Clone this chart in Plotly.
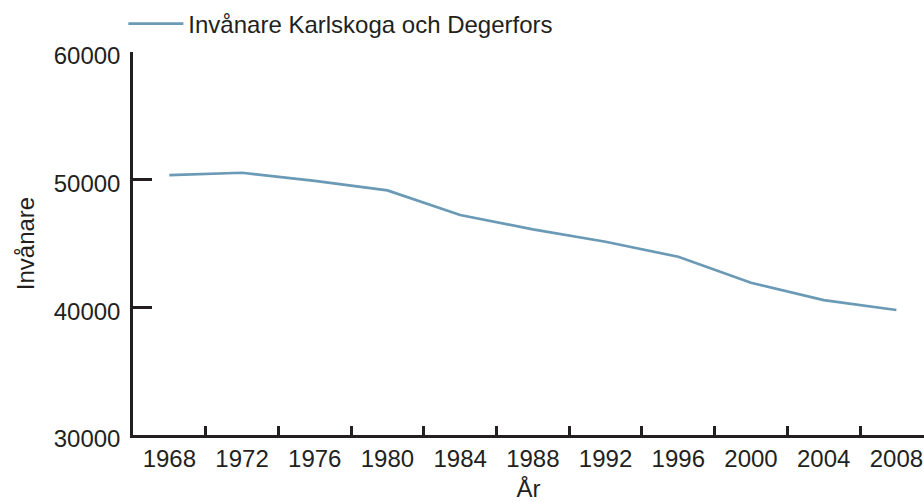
import plotly.graph_objects as go

years = ["1968", "1972", "1976", "1980", "1984", "1988", "1992", "1996", "2000", "2004", "2008"]
invanare = [50360, 50540, 49910, 49160, 47230, 46110, 45140, 43960, 41930, 40570, 39790]
series_name = "Invånare Karlskoga och Degerfors"
y_ticks = [30000, 40000, 50000, 60000]

ink = "#231f20"
fnt = "Liberation Sans, Arial, sans-serif"
fs = 24

fig = go.Figure()
fig.add_trace(go.Scatter(
    x=years, y=invanare, mode="lines", name=series_name,
    line=dict(color="#6a9ab5", width=2.7),
))

fig.update_layout(
    width=924, height=502,
    margin=dict(l=133, r=0, t=52, b=67, autoexpand=False),
    paper_bgcolor="white", plot_bgcolor="white",
    font=dict(family=fnt, size=fs, color=ink),
    showlegend=True,
    legend=dict(orientation="h", xref="container", yref="container",
                x=0.1335, xanchor="left", y=0.952, yanchor="middle",
                font=dict(size=fs, color=ink), bgcolor="rgba(0,0,0,0)", itemwidth=55),
    xaxis=dict(
        type="category", range=[-0.5, 10.38],
        tickson="boundaries", ticks="inside", ticklen=9, tickwidth=2.5, tickcolor=ink,
        showline=True, linewidth=2.5, linecolor=ink, showgrid=False, zeroline=False,
        title=dict(text="År", font=dict(size=fs, color=ink), standoff=15),
        tickfont=dict(size=fs, color=ink), automargin=False,
    ),
    yaxis=dict(
        range=[30000, 60000], tickvals=y_ticks, ticktext=[str(v) for v in y_ticks],
        ticks="inside", ticklen=19, tickwidth=2.5, tickcolor=ink,
        showline=True, linewidth=2.5, linecolor=ink, showgrid=False, zeroline=False,
        ticklabelstandoff=5, ticklabelshift=4,
        title=dict(text="Invånare", font=dict(size=fs, color=ink), standoff=13),
        tickfont=dict(size=fs, color=ink), automargin=False,
    ),
)

fig.write_html("out.html", config={"displayModeBar": False},
               post_script="document.body.style.margin='0';document.body.style.overflow='hidden';")
